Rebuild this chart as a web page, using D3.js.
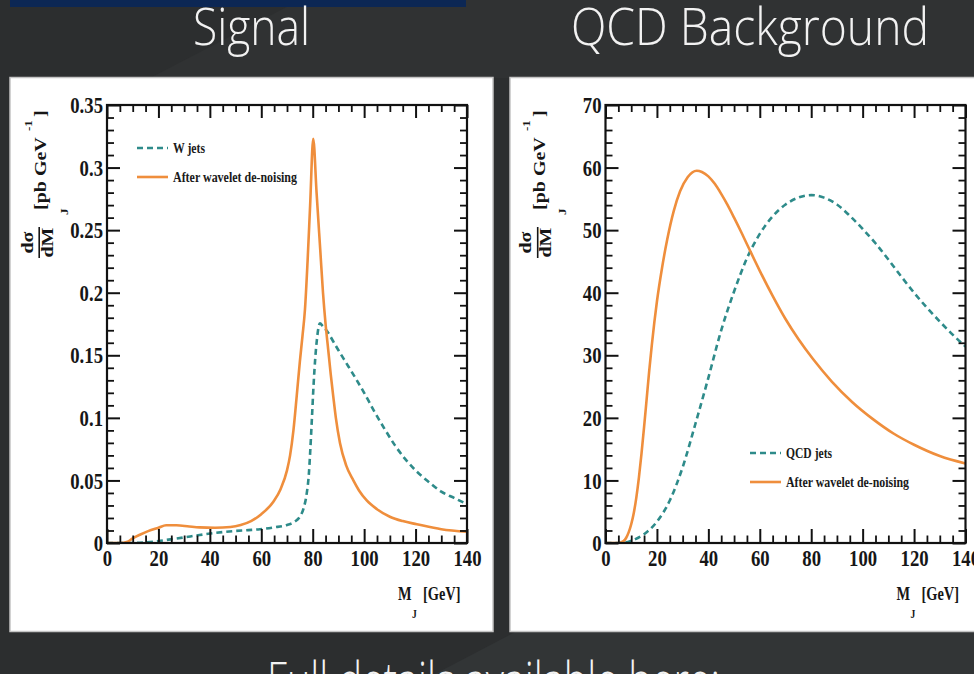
<!DOCTYPE html>
<html>
<head>
<meta charset="utf-8">
<script src="https://cdn.jsdelivr.net/npm/d3@7"></script>
<style>
  body { margin: 0; background: #2c2e2f; overflow: hidden; }
  svg { display: block; }
</style>
</head>
<body>
<svg id="chart" width="974" height="674"></svg>
<script>
// axis ticks
const massTicks = [0, 20, 40, 60, 80, 100, 120, 140];
const massTickLabels = ['0', '20', '40', '60', '80', '100', '120', '140'];
const signalTicks = [0, 0.05, 0.1, 0.15, 0.2, 0.25, 0.3, 0.35];
const signalTickLabels = ['0', '0.05', '0.1', '0.15', '0.2', '0.25', '0.3', '0.35'];
const qcdTicks = [0, 10, 20, 30, 40, 50, 60, 70];
const qcdTickLabels = ['0', '10', '20', '30', '40', '50', '60', '70'];

// signal: W jets (dashed) and after de-noising (solid)
const wJetsMass = [0, 10, 15, 20, 23, 30, 36, 42, 49, 55, 59.5, 65, 70, 73, 75, 76.5, 77.7, 78.5, 79, 79.7, 80.3, 81, 81.6, 82.8, 84, 86, 88, 90, 93, 96, 100, 104, 108, 112, 116, 120, 125, 130, 135, 140];
const wJetsXsec = [0, 0, 0.0005, 0.0015, 0.0024, 0.0045, 0.0064, 0.008, 0.0095, 0.0103, 0.011, 0.0125, 0.0144, 0.017, 0.021, 0.028, 0.04, 0.055, 0.072, 0.1, 0.125, 0.148, 0.162, 0.1755, 0.173, 0.168, 0.161, 0.154, 0.144, 0.134, 0.12, 0.105, 0.091, 0.078, 0.067, 0.058, 0.049, 0.041, 0.036, 0.031];
const wDenoisedMass = [0, 5, 8, 10, 13, 16, 20, 23, 27, 32, 36, 42, 48, 52, 56, 60, 64.7, 67.5, 70, 71.2, 72.5, 73.8, 75, 76, 77, 78, 79, 80.2, 81.5, 83, 84, 85, 86, 87, 88, 89, 90.6, 93, 95.8, 98, 101, 105, 110, 115, 120.5, 130, 140];
const wDenoisedXsec = [0, 0, 0.001, 0.0037, 0.0068, 0.0095, 0.0122, 0.0142, 0.0142, 0.0132, 0.0125, 0.0122, 0.0128, 0.0144, 0.0175, 0.023, 0.033, 0.043, 0.058, 0.07, 0.09, 0.118, 0.145, 0.165, 0.187, 0.225, 0.27, 0.323, 0.28, 0.232, 0.2, 0.175, 0.155, 0.135, 0.117, 0.1, 0.08, 0.062, 0.05, 0.042, 0.034, 0.027, 0.021, 0.0175, 0.015, 0.011, 0.009];

// QCD background: QCD jets (dashed) and after de-noising (solid)
const qcdJetsMass = [0, 5, 8, 10, 15, 20, 25, 30, 35, 40, 45, 50, 55, 60, 65, 70, 75, 80, 85, 90, 95, 100, 105, 110, 115, 120, 125, 130, 135, 140];
const qcdJetsXsec = [0, 0, 0.1, 0.35, 1.4, 3.4, 6.8, 12.1, 19.1, 26.4, 34, 40.2, 45.5, 49.4, 52.2, 54.1, 55.2, 55.6, 55.2, 54.1, 52.3, 50.2, 47.9, 45.3, 42.6, 40, 37.6, 35.4, 33.3, 31.4];
const qcdDenoisedMass = [0, 5, 7, 8, 9, 10, 11, 12, 13, 14, 15, 16, 17, 18, 19, 20, 22, 24, 26.5, 29, 32, 35.5, 37.5, 40, 42.5, 45, 47.5, 50, 53, 56, 60, 65, 70, 75, 80.7, 88, 96, 104, 112, 120, 130, 140];
const qcdDenoisedXsec = [0, 0, 0.3, 0.8, 1.7, 3, 4.8, 7.3, 10.5, 14.3, 18.5, 23, 27.5, 31.6, 35.3, 38.6, 44, 48.5, 53, 56.2, 58.5, 59.5, 59.3, 58.6, 57.4, 55.8, 54, 52, 49.5, 46.9, 43.5, 39.5, 35.8, 32.6, 29.4, 25.8, 22.5, 19.8, 17.5, 15.7, 13.9, 12.7];

const ORANGE = '#ef8e3c';
const TEAL = '#2e8b8a';
const SERIF = '"Liberation Serif", "Times New Roman", serif';
const TITLE_FONT = '"Open Sans", "Noto Sans", sans-serif';

const svg = d3.select('#chart');
const plotTop = 105, plotBottom = 543, plotWidth = 360;

// page background and slide chrome
svg.append('rect').attr('width', 974).attr('height', 674).attr('fill', '#2c2e2f');
svg.append('polygon').attr('points', '150,78 300,0 974,0 974,78').attr('fill', '#303233');
svg.append('polygon').attr('points', '435,674 515,632 974,632 974,674').attr('fill', '#323536');
svg.append('rect').attr('x', 10).attr('y', 0).attr('width', 456).attr('height', 7).attr('fill', '#0c2754');

const title = (x, y, len, text) => svg.append('text').attr('x', x).attr('y', y)
  .attr('font-family', TITLE_FONT).attr('font-weight', 300).attr('font-size', 52)
  .attr('fill', '#f2f2f2').attr('textLength', len).attr('lengthAdjust', 'spacingAndGlyphs')
  .text(text);

title(193, 45, 117, 'Signal');
title(571, 45, 358, 'QCD Background');
title(267, 699, 453, 'Full details available here:');

// white panels
svg.append('rect').attr('x', 10).attr('y', 77.5).attr('width', 483).attr('height', 554)
  .attr('fill', '#fff').attr('stroke', '#c4c4c4').attr('stroke-width', 1.5);
svg.append('rect').attr('x', 510).attr('y', 77.5).attr('width', 480).attr('height', 554)
  .attr('fill', '#fff').attr('stroke', '#c4c4c4').attr('stroke-width', 1.5);

const squeeze = (t, dx, dy, s) => t.attr('transform', `translate(${dx},${dy}) scale(${s},1)`);

const drawPanel = (p) => {
  let g = svg.append('g');

  let x = d3.scaleLinear().domain([0, 140]).range([p.left, p.left + plotWidth]);
  let y = d3.scaleLinear().domain([0, p.yMax]).range([plotBottom, plotTop]);

  svg.append('clipPath').attr('id', 'clip-' + p.id)
    .append('rect').attr('x', x(0)).attr('y', y(p.yMax))
    .attr('width', plotWidth).attr('height', plotBottom - plotTop);

  let line = d3.line()
    .x(d => x(d[0]))
    .y(d => y(d[1]))
    .curve(d3.curveMonotoneX);

  p.series.forEach(s => {
    g.append('path')
      .datum(d3.zip(s.mass, s.xsec))
      .attr('clip-path', `url(#clip-${p.id})`)
      .attr('fill', 'none')
      .attr('stroke', s.color)
      .attr('stroke-width', 2.6)
      .attr('stroke-dasharray', s.dash || null)
      .attr('d', line);
  });

  // ticks on all four sides, pointing in
  let minorX = d3.range(0, 141, 5).filter(v => v % 20 !== 0);
  let minorY = d3.range((p.yTicks.length - 1) * 5 + 1).filter(i => i % 5 !== 0).map(i => i * p.yStep);

  const addAxis = (axis, transform, width) => {
    let a = g.append('g').attr('transform', transform).call(axis);
    a.select('.domain').remove();
    a.selectAll('line').attr('stroke', '#111').attr('stroke-width', width);
    return a;
  };

  let left = addAxis(d3.axisLeft(y).tickValues(p.yTicks).tickSize(-13)
    .tickFormat((d, i) => p.yLabels[i]), `translate(${x(0)},0)`, 2);
  addAxis(d3.axisLeft(y).tickValues(minorY).tickSize(-7).tickFormat(''), `translate(${x(0)},0)`, 1.8);
  addAxis(d3.axisRight(y).tickValues(p.yTicks).tickSize(-13).tickFormat(''), `translate(${x(140)},0)`, 2);
  addAxis(d3.axisRight(y).tickValues(minorY).tickSize(-7).tickFormat(''), `translate(${x(140)},0)`, 1.8);

  let bottom = addAxis(d3.axisBottom(x).tickValues(massTicks).tickSize(-14)
    .tickFormat((d, i) => massTickLabels[i]), `translate(0,${plotBottom})`, 2);
  addAxis(d3.axisBottom(x).tickValues(minorX).tickSize(-7.5).tickFormat(''), `translate(0,${plotBottom})`, 1.8);
  addAxis(d3.axisTop(x).tickValues(massTicks).tickSize(-13).tickFormat(''), `translate(0,${plotTop})`, 2);
  addAxis(d3.axisTop(x).tickValues(minorX).tickSize(-7).tickFormat(''), `translate(0,${plotTop})`, 1.8);

  [left, bottom].forEach(a => a.selectAll('text')
    .attr('font-family', SERIF).attr('font-weight', 'bold')
    .attr('font-size', 24).attr('fill', '#161616'));
  left.selectAll('text').attr('x', 0).call(t => squeeze(t, -4, 0, 0.78));
  bottom.selectAll('text').attr('y', 0).attr('dy', null).call(t => squeeze(t, 0, 23, 0.78));

  g.append('rect')
    .attr('x', x(0)).attr('y', y(p.yMax))
    .attr('width', plotWidth).attr('height', plotBottom - plotTop)
    .attr('fill', 'none').attr('stroke', '#111').attr('stroke-width', 2.2);

  // legend
  p.legend.items.forEach((it, i) => {
    let ly = p.legend.y + i * p.legend.gap;
    g.append('line')
      .attr('x1', p.legend.x).attr('x2', p.legend.x + 31)
      .attr('y1', ly).attr('y2', ly)
      .attr('stroke', it.color).attr('stroke-width', 2.6)
      .attr('stroke-dasharray', it.dash || null);
    g.append('text')
      .attr('x', p.legend.x + 36).attr('y', ly + 5)
      .attr('font-family', SERIF).attr('font-weight', 'bold').attr('font-size', 15.5)
      .attr('fill', '#1a1a1a')
      .attr('textLength', it.len).attr('lengthAdjust', 'spacingAndGlyphs')
      .text(it.label);
  });

  // x title: M_J [GeV]
  let xt = g.append('g').attr('font-family', SERIF).attr('font-weight', 'bold').attr('fill', '#161616');
  xt.append('text').attr('font-size', 18).call(t => squeeze(t, x(0) + 291, 600, 0.8)).text('M');
  xt.append('text').attr('font-size', 12).call(t => squeeze(t, x(0) + 305, 618, 0.8)).text('J');
  xt.append('text').attr('font-size', 18).call(t => squeeze(t, x(0) + 316, 600, 0.8)).text('[GeV]');

  // y title: dσ/dM_J [pb GeV^-1], rotated
  let dx = p.left - 107;
  let yt = g.append('g')
    .attr('transform', `translate(${dx},258) rotate(-90) scale(1,0.8)`)
    .attr('font-family', SERIF).attr('font-weight', 'bold').attr('fill', '#161616');
  yt.append('text').attr('x', 15.5).attr('y', 41).attr('font-size', 20).attr('text-anchor', 'middle').text('dσ');
  yt.append('line').attr('x1', 0).attr('x2', 31).attr('y1', 49).attr('y2', 49)
    .attr('stroke', '#161616').attr('stroke-width', 2);
  yt.append('text').attr('x', 15.5).attr('y', 66).attr('font-size', 20).attr('text-anchor', 'middle').text('dM');
  yt.append('text').attr('x', 43).attr('y', 85).attr('font-size', 13).text('J');
  yt.append('text').attr('x', 48).attr('y', 58).attr('font-size', 20).text('[pb GeV');
  yt.append('text').attr('x', 127).attr('y', 40).attr('font-size', 13).text('-1');
  yt.append('text').attr('x', 141).attr('y', 58).attr('font-size', 20).text(']');
};

drawPanel({
  id: 'signal',
  left: 107,
  yMax: 0.35,
  yStep: 0.01,
  yTicks: signalTicks,
  yLabels: signalTickLabels,
  series: [
    { mass: wJetsMass, xsec: wJetsXsec, color: TEAL, dash: '6,4' },
    { mass: wDenoisedMass, xsec: wDenoisedXsec, color: ORANGE }
  ],
  legend: {
    x: 137, y: 148, gap: 29,
    items: [
      { label: 'W jets', len: 32, color: TEAL, dash: '6,4' },
      { label: 'After wavelet de-noising', len: 124, color: ORANGE }
    ]
  }
});

drawPanel({
  id: 'qcd',
  left: 605.5,
  yMax: 70,
  yStep: 2,
  yTicks: qcdTicks,
  yLabels: qcdTickLabels,
  series: [
    { mass: qcdJetsMass, xsec: qcdJetsXsec, color: TEAL, dash: '6,4' },
    { mass: qcdDenoisedMass, xsec: qcdDenoisedXsec, color: ORANGE }
  ],
  legend: {
    x: 750, y: 453, gap: 29,
    items: [
      { label: 'QCD jets', len: 46, color: TEAL, dash: '6,4' },
      { label: 'After wavelet de-noising', len: 123, color: ORANGE }
    ]
  }
});
</script>
</body>
</html>
